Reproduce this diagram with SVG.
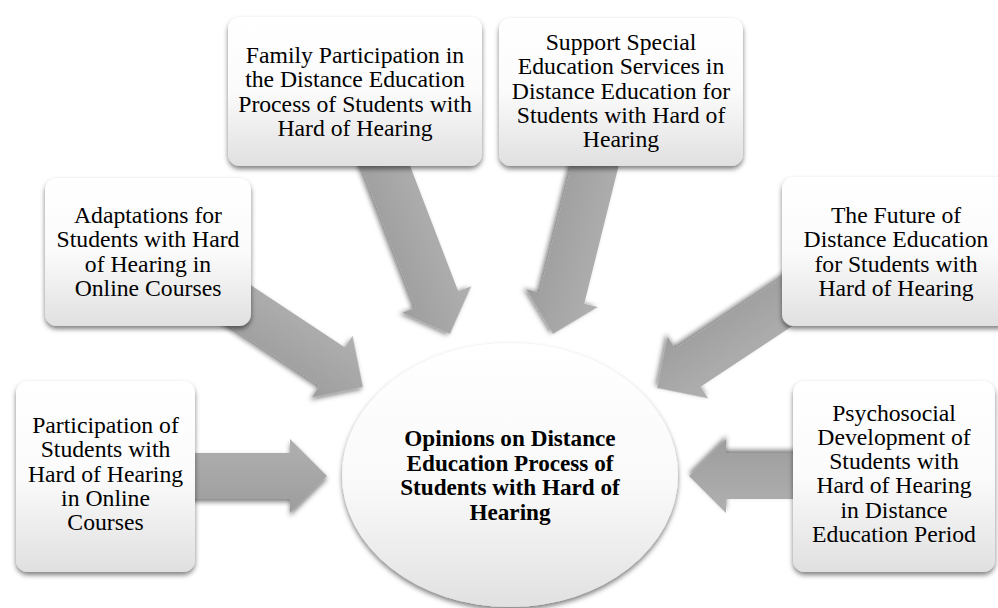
<svg xmlns="http://www.w3.org/2000/svg" width="998" height="608" viewBox="0 0 998 608">
<defs>
  <linearGradient id="boxGrad" x1="0" y1="0" x2="0" y2="1">
    <stop offset="0" stop-color="#ffffff"/>
    <stop offset="0.5" stop-color="#fbfbfb"/>
    <stop offset="1" stop-color="#e0e0e0"/>
  </linearGradient>
  <linearGradient id="ellGrad" x1="0" y1="0" x2="0" y2="1">
    <stop offset="0" stop-color="#ffffff"/>
    <stop offset="0.55" stop-color="#f9f9f9"/>
    <stop offset="1" stop-color="#e1e1e1"/>
  </linearGradient>
  <linearGradient id="arrGrad" x1="0" y1="0" x2="0" y2="1">
    <stop offset="0" stop-color="#b0b0b0"/>
    <stop offset="1" stop-color="#9d9d9d"/>
  </linearGradient>
  <filter id="shadow" x="-20%" y="-20%" width="140%" height="140%">
    <feDropShadow dx="0" dy="3" stdDeviation="2.5" flood-color="#000" flood-opacity="0.5"/>
  </filter>
</defs>
<style>
  .box { fill: url(#boxGrad); filter: url(#shadow); }
  .ell { fill: url(#ellGrad); filter: url(#shadow); }
  .arrow { fill: url(#arrGrad); filter: url(#shadow); }
  .t { font-family: "Liberation Serif", "Times New Roman", serif; font-size: 23.7px; fill: #000; text-anchor: middle; }
  .tb { font-family: "Liberation Serif", "Times New Roman", serif; font-size: 23.2px; font-weight: bold; fill: #000; text-anchor: middle; }
</style>
<rect width="998" height="608" fill="#ffffff"/>

<g id="connectors">
  <path class="arrow" transform="translate(327,476)" d="M -140 -23 H -37 V -37 L 0 0 L -37 37 V 23 H -140 Z"/>
  <path class="arrow" transform="translate(363,387) rotate(33.5)" d="M -165 -23 H -37 V -37 L 0 0 L -37 37 V 23 H -165 Z"/>
  <path class="arrow" transform="translate(450,334) rotate(69)" d="M -200 -23 H -37 V -37 L 0 0 L -37 37 V 23 H -200 Z"/>
  <path class="arrow" transform="translate(553,334) rotate(104)" d="M -195 -23 H -37 V -37 L 0 0 L -37 37 V 23 H -195 Z"/>
  <path class="arrow" transform="translate(657,388) rotate(146.5)" d="M -175 -23 H -37 V -37 L 0 0 L -37 37 V 23 H -175 Z"/>
  <path class="arrow" transform="translate(689,476) rotate(180)" d="M -112 -23 H -37 V -37 L 0 0 L -37 37 V 23 H -112 Z"/>
</g>

<g id="center">
  <ellipse class="ell" cx="510" cy="475" rx="168" ry="132"/>
  <text class="tb" x="510" y="446">Opinions on Distance</text>
  <text class="tb" x="510" y="470.5">Education Process of</text>
  <text class="tb" x="510" y="495">Students with Hard of</text>
  <text class="tb" x="510" y="519.5">Hearing</text>
</g>

<g id="participation">
  <rect class="box" x="16" y="381" width="179" height="191" rx="12"/>
  <text class="t" x="105.5" y="433">Participation of</text>
  <text class="t" x="105.5" y="457">Students with</text>
  <text class="t" x="105.5" y="482">Hard of Hearing</text>
  <text class="t" x="105.5" y="506">in Online</text>
  <text class="t" x="105.5" y="530">Courses</text>
</g>

<g id="adaptations">
  <rect class="box" x="45" y="178" width="206" height="148" rx="12"/>
  <text class="t" x="148" y="223">Adaptations for</text>
  <text class="t" x="148" y="247">Students with Hard</text>
  <text class="t" x="148" y="272">of Hearing in</text>
  <text class="t" x="148" y="296">Online Courses</text>
</g>

<g id="family">
  <rect class="box" x="228" y="17" width="254" height="149" rx="12"/>
  <text class="t" x="355" y="63">Family Participation in</text>
  <text class="t" x="355" y="87">the Distance Education</text>
  <text class="t" x="355" y="112">Process of Students with</text>
  <text class="t" x="355" y="136">Hard of Hearing</text>
</g>

<g id="support">
  <rect class="box" x="499" y="18" width="244" height="148" rx="12"/>
  <text class="t" x="621" y="50">Support Special</text>
  <text class="t" x="621" y="74">Education Services in</text>
  <text class="t" x="621" y="99">Distance Education for</text>
  <text class="t" x="621" y="123">Students with Hard of</text>
  <text class="t" x="621" y="147">Hearing</text>
</g>

<g id="future">
  <rect class="box" x="782" y="177" width="228" height="149" rx="12"/>
  <text class="t" x="896" y="223">The Future of</text>
  <text class="t" x="896" y="247">Distance Education</text>
  <text class="t" x="896" y="272">for Students with</text>
  <text class="t" x="896" y="296">Hard of Hearing</text>
</g>

<g id="psychosocial">
  <rect class="box" x="793" y="381" width="202" height="191" rx="12"/>
  <text class="t" x="894" y="421">Psychosocial</text>
  <text class="t" x="894" y="445">Development of</text>
  <text class="t" x="894" y="469">Students with</text>
  <text class="t" x="894" y="493">Hard of Hearing</text>
  <text class="t" x="894" y="518">in Distance</text>
  <text class="t" x="894" y="542">Education Period</text>
</g>
</svg>
